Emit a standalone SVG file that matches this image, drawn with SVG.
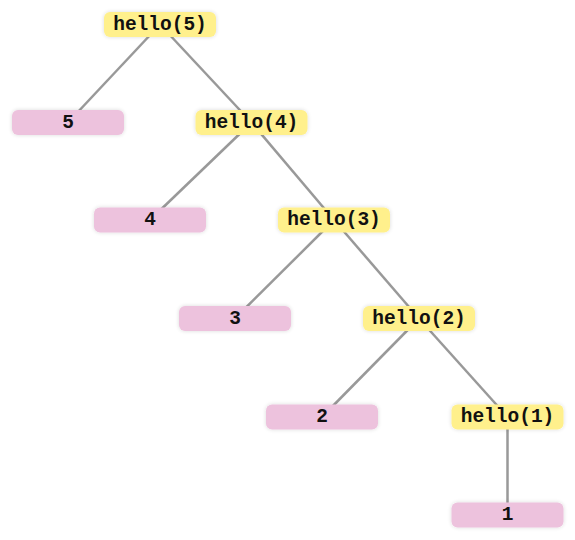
<svg xmlns="http://www.w3.org/2000/svg" width="575" height="540" viewBox="0 0 575 540">
<style>
.call{fill:#fff08c}
.val{fill:#edc2dd}
.box{filter:url(#glow)}
text{font-family:"Liberation Mono","Courier New",monospace;font-weight:bold;font-size:19.5px;fill:#111;text-anchor:middle;dominant-baseline:central}
.edge{stroke:#999;stroke-width:2.5;fill:none}
</style>
<defs>
<filter id="glow" x="-20%" y="-50%" width="140%" height="200%">
<feGaussianBlur in="SourceAlpha" stdDeviation="2"/>
<feComponentTransfer><feFuncA type="linear" slope="0.15"/></feComponentTransfer>
<feMerge><feMergeNode/><feMergeNode in="SourceGraphic"/></feMerge>
</filter>
</defs>
<rect width="575" height="540" fill="#fff"/>
<g id="edges">
<line class="edge" x1="160" y1="24.5" x2="68" y2="122.5"/>
<line class="edge" x1="160" y1="24.5" x2="251.5" y2="122.5"/>
<line class="edge" x1="251.5" y1="122.5" x2="150" y2="220"/>
<line class="edge" x1="251.5" y1="122.5" x2="334" y2="220"/>
<line class="edge" x1="334" y1="220" x2="235" y2="318.5"/>
<line class="edge" x1="334" y1="220" x2="419" y2="318.5"/>
<line class="edge" x1="419" y1="318.5" x2="322" y2="417"/>
<line class="edge" x1="419" y1="318.5" x2="507.5" y2="417"/>
<line class="edge" x1="507.5" y1="417" x2="507.5" y2="515"/>
</g>
<g id="hello5"><rect class="box call" x="104" y="12" width="112" height="25" rx="6"/><text x="160" y="24.5">hello(5)</text></g>
<g id="v5"><rect class="box val" x="12" y="110" width="112" height="25" rx="6"/><text x="68" y="122.5">5</text></g>
<g id="hello4"><rect class="box call" x="195.5" y="110" width="112" height="25" rx="6"/><text x="251.5" y="122.5">hello(4)</text></g>
<g id="v4"><rect class="box val" x="94" y="207.5" width="112" height="25" rx="6"/><text x="150" y="220">4</text></g>
<g id="hello3"><rect class="box call" x="278" y="207.5" width="112" height="25" rx="6"/><text x="334" y="220">hello(3)</text></g>
<g id="v3"><rect class="box val" x="179" y="306" width="112" height="25" rx="6"/><text x="235" y="318.5">3</text></g>
<g id="hello2"><rect class="box call" x="363" y="306" width="112" height="25" rx="6"/><text x="419" y="318.5">hello(2)</text></g>
<g id="v2"><rect class="box val" x="266" y="404.5" width="112" height="25" rx="6"/><text x="322" y="417">2</text></g>
<g id="hello1"><rect class="box call" x="451.5" y="404.5" width="112" height="25" rx="6"/><text x="507.5" y="417">hello(1)</text></g>
<g id="v1"><rect class="box val" x="451.5" y="502.5" width="112" height="25" rx="6"/><text x="507.5" y="515">1</text></g>
</svg>
